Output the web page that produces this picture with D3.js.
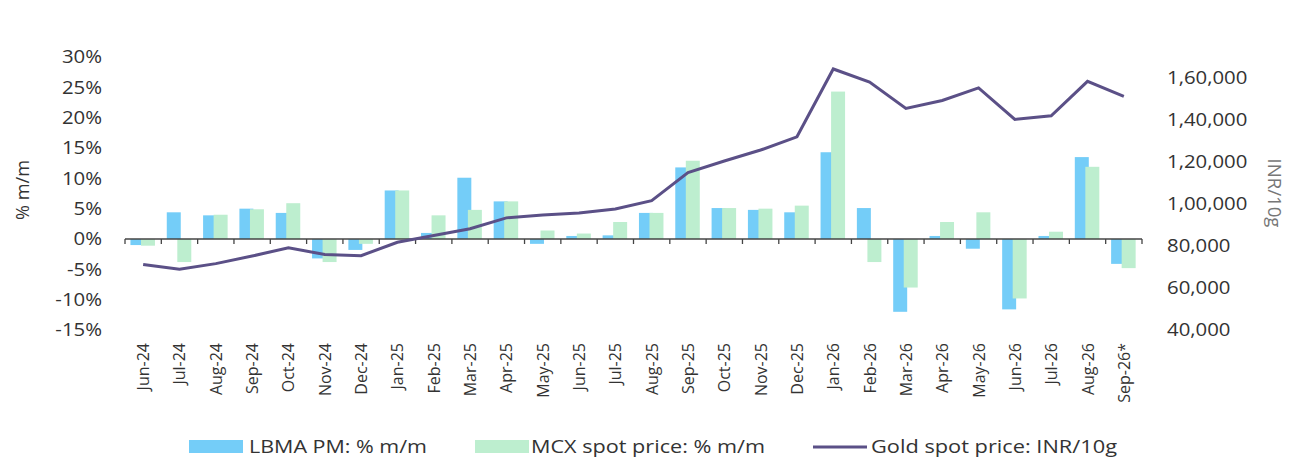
<!DOCTYPE html>
<html>
<head>
<meta charset="utf-8">
<script src="https://cdn.jsdelivr.net/npm/d3@7"></script>
<style>
  html, body { margin: 0; padding: 0; background: #ffffff; }
  svg { display: block; font-family: "Open Sans", "Noto Sans", sans-serif; }
</style>
</head>
<body>
<svg id="chart" width="1301" height="468"></svg>
<script>
const months = ["Jun-24","Jul-24","Aug-24","Sep-24","Oct-24","Nov-24","Dec-24","Jan-25","Feb-25","Mar-25","Apr-25","May-25","Jun-25","Jul-25","Aug-25","Sep-25","Oct-25","Nov-25","Dec-25","Jan-26","Feb-26","Mar-26","Apr-26","May-26","Jun-26","Jul-26","Aug-26","Sep-26*"];
const lbmaPM = [-1.0, 4.4, 3.9, 5.0, 4.3, -3.2, -1.8, 8.0, 1.0, 10.1, 6.2, -0.8, 0.5, 0.6, 4.3, 11.8, 5.1, 4.8, 4.4, 14.3, 5.1, -12.0, 0.5, -1.6, -11.6, 0.5, 13.5, -4.1];
const mcxSpot = [-1.1, -3.8, 4.0, 4.9, 5.9, -3.8, -0.8, 8.0, 3.9, 4.8, 6.2, 1.4, 0.9, 2.8, 4.3, 12.9, 5.1, 5.0, 5.5, 24.3, -3.8, -8.0, 2.8, 4.4, -9.8, 1.2, 11.9, -4.8];
const goldINR = [71200, 68900, 71600, 75200, 79200, 76000, 75400, 81800, 85000, 88200, 93400, 94800, 95700, 97600, 101600, 115000, 120500, 125700, 132000, 164300, 158100, 145500, 149300, 155300, 140300, 142000, 158400, 151300];
const leftTicks = [-15, -10, -5, 0, 5, 10, 15, 20, 25, 30];
const rightTicks = [40000, 60000, 80000, 100000, 120000, 140000, 160000];
const seriesNames = ["LBMA PM: % m/m", "MCX spot price: % m/m", "Gold spot price: INR/10g"];

const colBlue = "#74cdf8", colGreen = "#bdeecf", colLine = "#5b5087", textCol = "#333333";

const svg = d3.select("#chart");
const plot = { left: 125, right: 1142, top: 57, bottom: 330 };

const x = d3.scaleBand().domain(months).range([plot.left, plot.right]).paddingInner(0).paddingOuter(0);
const yL = d3.scaleLinear().domain([-15, 30]).range([plot.bottom, plot.top]);
const yR = d3.scaleLinear().domain([40000, 170000]).range([plot.bottom, plot.top]);
const bw = x.bandwidth();

function pct(d) { return (d < 0 ? "-" : "") + Math.abs(d) + "%"; }
function indian(n) {
  const s = String(Math.round(n));
  if (s.length <= 3) return s;
  const last3 = s.slice(-3);
  let rest = s.slice(0, -3);
  const parts = [];
  while (rest.length > 2) { parts.unshift(rest.slice(-2)); rest = rest.slice(0, -2); }
  if (rest.length) parts.unshift(rest);
  return parts.join(",") + "," + last3;
}
function widen(sel, f) {
  sel.each(function () {
    const w = this.getComputedTextLength();
    d3.select(this).attr("textLength", w * f).attr("lengthAdjust", "spacingAndGlyphs");
  });
}

// Bars
const g = svg.append("g");
g.selectAll("rect.lbma").data(months).join("rect")
  .attr("class", "lbma")
  .attr("x", (m) => x(m) + bw * 0.15)
  .attr("width", bw * 0.385)
  .attr("y", (m, i) => yL(Math.max(0, lbmaPM[i])))
  .attr("height", (m, i) => Math.abs(yL(lbmaPM[i]) - yL(0)))
  .attr("fill", colBlue);
g.selectAll("rect.mcx").data(months).join("rect")
  .attr("class", "mcx")
  .attr("x", (m) => x(m) + bw * 0.44)
  .attr("width", bw * 0.385)
  .attr("y", (m, i) => yL(Math.max(0, mcxSpot[i])))
  .attr("height", (m, i) => Math.abs(yL(mcxSpot[i]) - yL(0)))
  .attr("fill", colGreen);

// Zero axis line with ticks at band boundaries
const zeroY = yL(0);
const bounds = months.map(m => x(m)).concat([x(months[months.length - 1]) + bw]);
svg.append("line").attr("x1", plot.left).attr("x2", plot.right)
  .attr("y1", zeroY).attr("y2", zeroY).attr("stroke", "#444").attr("stroke-width", 1.5);
svg.selectAll("line.tk").data(bounds).join("line").attr("class", "tk")
  .attr("x1", d => d).attr("x2", d => d).attr("y1", zeroY).attr("y2", zeroY + 5)
  .attr("stroke", "#444").attr("stroke-width", 1.3);

// Line
const line = d3.line().x((d, i) => x(months[i]) + bw / 2).y(d => yR(d));
svg.append("path").datum(goldINR).attr("d", line)
  .attr("fill", "none").attr("stroke", colLine).attr("stroke-width", 3).attr("stroke-linejoin", "miter");

// Left axis
const axL = svg.append("g").attr("transform", `translate(${plot.left - 23},0)`)
  .call(d3.axisLeft(yL).tickValues(leftTicks).tickFormat(pct).tickSize(0));
axL.select(".domain").remove();
axL.selectAll("text").attr("font-size", 18.5).attr("fill", textCol).attr("font-family", "Open Sans").attr("x", 0);
widen(axL.selectAll("text"), 1.1);

// Right axis
const axR = svg.append("g").attr("transform", `translate(${plot.right + 25},0)`)
  .call(d3.axisRight(yR).tickValues(rightTicks).tickFormat(indian).tickSize(0));
axR.select(".domain").remove();
axR.selectAll("text").attr("font-size", 18.5).attr("fill", textCol).attr("font-family", "Open Sans").attr("x", 0);
widen(axR.selectAll("text"), 1.1);

// X labels
svg.selectAll("text.xl").data(months).join("text").attr("class", "xl")
  .attr("transform", m => `translate(${x(m) + bw / 2 + 6},${plot.bottom + 13}) rotate(-90)`)
  .attr("text-anchor", "end")
  .attr("font-size", 16).attr("fill", textCol)
  .text(m => m);

// Axis titles
svg.append("text").attr("transform", "translate(29,190) rotate(-90)")
  .attr("text-anchor", "middle").attr("font-size", 19).attr("fill", textCol)
  .attr("textLength", 60).attr("lengthAdjust", "spacingAndGlyphs").text("% m/m");
svg.append("text").attr("transform", "translate(1268,193) rotate(90)")
  .attr("text-anchor", "middle").attr("font-size", 19).attr("fill", "#777")
  .attr("textLength", 69).attr("lengthAdjust", "spacingAndGlyphs").text("INR/10g");

// Legend
const lg = svg.append("g");
const legendY = 447;
lg.append("rect").attr("x", 189).attr("y", legendY - 7).attr("width", 54).attr("height", 13).attr("fill", colBlue);
lg.append("text").attr("x", 249).attr("y", legendY + 6).attr("font-size", 17.5).attr("fill", textCol)
  .attr("textLength", 178).attr("lengthAdjust", "spacingAndGlyphs").text(seriesNames[0]);
lg.append("rect").attr("x", 475).attr("y", legendY - 7).attr("width", 54).attr("height", 13).attr("fill", colGreen);
lg.append("text").attr("x", 531).attr("y", legendY + 6).attr("font-size", 17.5).attr("fill", textCol)
  .attr("textLength", 234).attr("lengthAdjust", "spacingAndGlyphs").text(seriesNames[1]);
lg.append("line").attr("x1", 813).attr("x2", 867).attr("y1", legendY).attr("y2", legendY).attr("stroke", colLine).attr("stroke-width", 3);
lg.append("text").attr("x", 871).attr("y", legendY + 6).attr("font-size", 17.5).attr("fill", textCol)
  .attr("textLength", 246).attr("lengthAdjust", "spacingAndGlyphs").text(seriesNames[2]);
</script>
</body>
</html>
